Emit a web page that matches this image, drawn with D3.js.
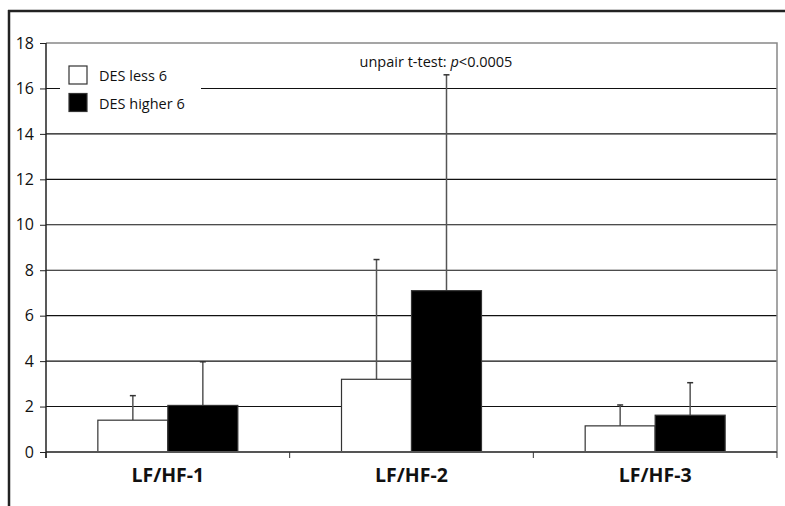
<!DOCTYPE html>
<meta charset="utf-8">
<script src="https://d3js.org/d3.v7.min.js"></script>
<style>
    body { margin: 0; background: #fff; }
    text { font-family: "Open Sans", sans-serif; fill: #111; }
</style>
<body>
<script>
    // data
    var categories = ["LF/HF-1", "LF/HF-2", "LF/HF-3"];
    var seriesNames = ["DES less 6", "DES higher 6"];
    var lessMeans = [1.4, 3.2, 1.15];
    var lessErrs = [1.08, 5.27, 0.92];
    var higherMeans = [2.05, 7.1, 1.62];
    var higherErrs = [1.92, 9.5, 1.43];
    var yTicks = [0, 2, 4, 6, 8, 10, 12, 14, 16, 18];
    var note = "unpair t-test: ";

    var width = 785, height = 506;
    var plot = { left: 46, right: 777, top: 43, bottom: 452 };

    var svg = d3.select("body").append("svg")
        .attr("width", width)
        .attr("height", height);

    // outer frame (top + left only)
    svg.append("line").attr("x1", 8).attr("x2", width).attr("y1", 11).attr("y2", 11)
        .attr("stroke", "#222").attr("stroke-width", 2.5);
    svg.append("line").attr("x1", 9).attr("x2", 9).attr("y1", 10).attr("y2", height)
        .attr("stroke", "#222").attr("stroke-width", 2.5);

    var y = d3.scaleLinear().domain([0, 18]).range([plot.bottom, plot.top]);
    var x0 = d3.scaleBand().domain(categories).range([plot.left, plot.right])
        .paddingInner(0.4255).paddingOuter(0.2128);
    var x1 = d3.scaleBand().domain(seriesNames).range([0, x0.bandwidth()]);

    var rows = categories.map(function (c, i) {
        return [
            { cat: c, s: seriesNames[0], v: lessMeans[i], e: lessErrs[i], fill: "#fff" },
            { cat: c, s: seriesNames[1], v: higherMeans[i], e: higherErrs[i], fill: "#000" }
        ];
    });

    // gridlines
    svg.append("g").selectAll("line")
        .data(yTicks.filter(function (d) { return d > 0 && d < 18; }))
        .enter().append("line")
        .attr("x1", plot.left).attr("x2", plot.right)
        .attr("y1", function (d) { return y(d); })
        .attr("y2", function (d) { return y(d); })
        .attr("stroke", "#111").attr("stroke-width", 1.1);

    // top and right border of plot area
    svg.append("path")
        .attr("d", "M" + plot.left + "," + y(18) + "H" + plot.right + "V" + plot.bottom)
        .attr("fill", "none").attr("stroke", "#888").attr("stroke-width", 1.5);

    // error bars (drawn behind bars)
    var flat = [].concat.apply([], rows);
    var eb = svg.append("g").selectAll("g").data(flat).enter().append("g")
        .attr("transform", function (d) {
            return "translate(" + (x0(d.cat) + x1(d.s) + x1.bandwidth() / 2) + ",0)";
        });
    eb.append("line")
        .attr("y1", function (d) { return y(d.v); })
        .attr("y2", function (d) { return y(d.v + d.e); })
        .attr("stroke", "#555").attr("stroke-width", 1.5);
    eb.append("line")
        .attr("x1", -3).attr("x2", 3)
        .attr("y1", function (d) { return y(d.v + d.e); })
        .attr("y2", function (d) { return y(d.v + d.e); })
        .attr("stroke", "#333").attr("stroke-width", 1.5);

    // bars
    svg.append("g").selectAll("rect").data(flat).enter().append("rect")
        .attr("x", function (d) { return x0(d.cat) + x1(d.s); })
        .attr("width", x1.bandwidth())
        .attr("y", function (d) { return y(d.v); })
        .attr("height", function (d) { return y(0) - y(d.v); })
        .attr("fill", function (d) { return d.fill; })
        .attr("stroke", "#333").attr("stroke-width", 1.2);

    // baseline + x ticks
    svg.append("line").attr("x1", plot.left).attr("x2", plot.right)
        .attr("y1", plot.bottom).attr("y2", plot.bottom)
        .attr("stroke", "#555").attr("stroke-width", 2);
    var bounds = [plot.left].concat(categories.map(function (c) {
        return x0(c) + x0.bandwidth() + x0.step() * x0.paddingInner() / 2;
    }));
    svg.append("g").selectAll("line").data(bounds).enter().append("line")
        .attr("x1", function (d) { return d; }).attr("x2", function (d) { return d; })
        .attr("y1", plot.bottom).attr("y2", plot.bottom + 6)
        .attr("stroke", "#333").attr("stroke-width", 1);

    // y axis
    var yAxis = svg.append("g")
        .attr("transform", "translate(" + plot.left + ",0)")
        .call(d3.axisLeft(y).tickValues(yTicks).tickSize(6).tickPadding(6).tickFormat(d3.format("d")));
    yAxis.select(".domain").attr("stroke", "#222").attr("stroke-width", 1.5)
        .attr("d", "M0," + y(18) + "V" + (plot.bottom + 6));
    yAxis.selectAll(".tick line").attr("stroke", "#222");
    yAxis.selectAll(".tick text").style("font-size", "16px").attr("fill", "#111")
        .style("font-family", "'Open Sans', sans-serif");

    // x labels
    svg.append("g").selectAll("text").data(categories).enter().append("text")
        .attr("x", function (d) { return x0(d) + x0.bandwidth() / 2; })
        .attr("y", 482)
        .attr("text-anchor", "middle")
        .style("font-size", "19.5px").style("font-weight", "bold")
        .text(function (d) { return d; });

    // legend
    var lg = svg.append("g");
    lg.append("rect").attr("x", 60).attr("y", 58).attr("width", 141).attr("height", 62).attr("fill", "#fff");
    var items = lg.selectAll("g.item").data(seriesNames).enter().append("g")
        .attr("transform", function (d, i) { return "translate(69," + (66 + i * 27.5) + ")"; });
    items.append("rect").attr("width", 18).attr("height", 18)
        .attr("fill", function (d, i) { return i ? "#000" : "#fff"; })
        .attr("stroke", "#333").attr("stroke-width", 1.2);
    items.append("text").attr("x", 30).attr("y", 15)
        .style("font-size", "14.5px")
        .text(function (d) { return d; });

    // annotation
    var t = svg.append("text").attr("x", 436).attr("y", 67).attr("text-anchor", "middle")
        .style("font-size", "14.5px");
    t.append("tspan").text(note);
    t.append("tspan").style("font-style", "italic").text("p");
    t.append("tspan").text("<0.0005");
</script>
</body>
